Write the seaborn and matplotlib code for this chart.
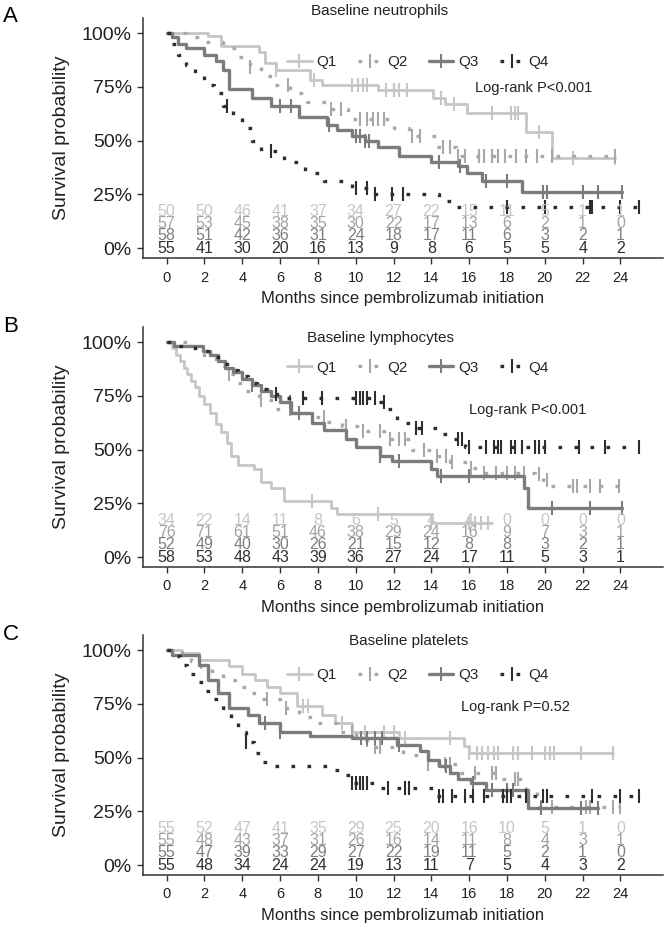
import numpy as np
import pandas as pd
import matplotlib
matplotlib.use("Agg")
import matplotlib.pyplot as plt
from matplotlib.lines import Line2D
import seaborn as sns

sns.set_theme(style="ticks")
plt.rcParams["font.family"] = ["Liberation Sans", "DejaVu Sans"]

groups = ["Q1", "Q2", "Q3", "Q4"]
months = [0, 2, 4, 6, 8, 10, 12, 14, 16, 18, 20, 22, 24]

# ---- Baseline neutrophils ----
neu_q1_t = [0, 2.2, 2.9, 4.9, 5.2, 5.8, 7.6, 8.2, 11.2, 14.1, 14.7, 15.9, 19.0, 20.4]
neu_q1_s = [1.0, 0.985, 0.94, 0.91, 0.86, 0.83, 0.78, 0.76, 0.735, 0.70, 0.67, 0.63, 0.54, 0.42]
neu_q1_end = 23.7
neu_q1_cens = [5.8, 7.8, 9.8, 10.1, 10.4, 10.6, 11.6, 12.0, 12.3, 12.7, 14.5, 15.2, 17.2, 18.2, 18.4, 18.6, 19.7, 21.5, 23.7]
neu_q2_t = [0, 1.0, 2.0, 3.0, 3.8, 4.4, 5.0, 5.6, 6.5, 7.4, 8.6, 9.6, 12.0, 12.8, 14.3, 15.3]
neu_q2_s = [1.0, 0.98, 0.96, 0.93, 0.89, 0.84, 0.80, 0.76, 0.72, 0.68, 0.645, 0.60, 0.56, 0.52, 0.47, 0.43]
neu_q2_end = 23.7
neu_q2_cens = [4.4, 6.4, 8.7, 9.2, 10.2, 10.6, 10.9, 11.2, 11.5, 13.0, 13.4, 14.6, 15.0, 15.4, 15.8, 16.5, 16.8, 17.2, 17.5, 17.9, 18.5, 19.0, 19.6, 20.4, 23.7]
neu_q3_t = [0, 0.3, 0.6, 1.0, 2.0, 2.6, 3.0, 3.3, 4.5, 5.5, 7.0, 8.5, 9.0, 9.8, 10.5, 11.2, 12.3, 14.0, 15.4, 15.9, 16.7, 18.8]
neu_q3_s = [1.0, 0.98, 0.95, 0.93, 0.90, 0.87, 0.83, 0.74, 0.70, 0.66, 0.61, 0.57, 0.55, 0.52, 0.50, 0.47, 0.43, 0.40, 0.38, 0.35, 0.31, 0.26]
neu_q3_end = 24.1
neu_q3_cens = [6.0, 6.6, 8.6, 10.0, 10.2, 10.5, 10.7, 14.4, 15.5, 16.9, 18.0, 19.9, 20.1, 22.0, 22.8, 24.1]
neu_q4_t = [0, 0.3, 0.6, 1.0, 1.5, 2.0, 2.5, 3.0, 3.5, 4.0, 4.5, 5.0, 6.2, 7.3, 8.3, 9.8, 11.0, 14.4, 15.2]
neu_q4_s = [1.0, 0.95, 0.90, 0.85, 0.80, 0.76, 0.72, 0.66, 0.61, 0.56, 0.50, 0.45, 0.40, 0.35, 0.31, 0.28, 0.25, 0.22, 0.19]
neu_q4_end = 25.0
neu_q4_cens = [3.2, 5.5, 10.0, 10.6, 11.0, 11.9, 12.5, 18.0, 20.0, 22.4, 22.5, 24.0, 25.0]
neu_risk_q1 = [50, 50, 46, 41, 37, 34, 27, 22, 15, 11, 5, 1, 1]
neu_risk_q2 = [57, 53, 45, 38, 35, 30, 22, 17, 13, 6, 2, 1, 0]
neu_risk_q3 = [58, 51, 42, 36, 31, 24, 18, 17, 11, 6, 3, 2, 1]
neu_risk_q4 = [55, 41, 30, 20, 16, 13, 9, 8, 6, 5, 5, 4, 2]

# ---- Baseline lymphocytes ----
lym_q1_t = [0, 0.3, 0.5, 0.7, 0.9, 1.1, 1.3, 1.5, 1.7, 2.0, 2.3, 2.6, 2.9, 3.2, 3.4, 3.8, 4.6, 5.0, 5.5, 6.2, 8.7, 9.0, 14.0]
lym_q1_s = [1.0, 0.97, 0.94, 0.91, 0.88, 0.85, 0.82, 0.79, 0.75, 0.71, 0.67, 0.62, 0.58, 0.53, 0.47, 0.43, 0.41, 0.35, 0.32, 0.26, 0.23, 0.20, 0.16]
lym_q1_end = 17.2
lym_q1_cens = [7.7, 11.2, 14.0, 16.0, 16.3, 16.6, 17.0]
lym_q2_t = [0, 1.2, 2.0, 2.6, 3.1, 3.6, 4.2, 4.9, 5.8, 6.6, 7.5, 8.4, 9.3, 10.2, 11.5, 13.0, 14.2, 15.0, 15.9, 16.5, 19.5, 19.9, 20.3]
lym_q2_s = [1.0, 0.97, 0.93, 0.89, 0.85, 0.81, 0.77, 0.73, 0.69, 0.67, 0.65, 0.63, 0.61, 0.585, 0.55, 0.50, 0.47, 0.44, 0.415, 0.39, 0.385, 0.36, 0.33]
lym_q2_end = 24.0
lym_q2_cens = [3.3, 5.0, 6.5, 8.3, 9.5, 10.4, 11.3, 11.8, 12.3, 12.6, 13.6, 14.3, 14.8, 15.1, 16.1, 16.8, 17.4, 18.0, 18.4, 18.9, 19.7, 20.1, 21.5, 21.7, 22.4, 22.9, 23.9]
lym_q3_t = [0, 0.4, 1.9, 2.3, 2.7, 3.1, 3.5, 4.0, 4.5, 5.0, 5.5, 6.0, 6.6, 7.7, 8.3, 9.5, 10.0, 11.3, 11.9, 14.0, 14.3, 18.9, 19.1]
lym_q3_s = [1.0, 0.98, 0.96, 0.94, 0.91, 0.88, 0.86, 0.83, 0.80, 0.77, 0.75, 0.72, 0.67, 0.625, 0.59, 0.55, 0.51, 0.47, 0.445, 0.41, 0.375, 0.32, 0.23]
lym_q3_end = 24.1
lym_q3_cens = [4.5, 6.5, 7.0, 11.3, 12.3, 14.5, 16.0, 20.4, 22.4, 24.1]
lym_q4_t = [0, 0.5, 1.5, 2.2, 2.8, 3.3, 3.8, 4.3, 4.8, 5.3, 6.0, 11.2, 11.6, 12.2, 13.2, 14.4, 15.2, 15.8]
lym_q4_s = [1.0, 0.98, 0.96, 0.93, 0.90, 0.87, 0.84, 0.81, 0.78, 0.76, 0.74, 0.72, 0.69, 0.625, 0.60, 0.57, 0.55, 0.51]
lym_q4_end = 25.0
lym_q4_cens = [5.8, 7.2, 8.2, 10.0, 10.2, 10.4, 10.6, 11.0, 11.5, 13.2, 13.5, 15.4, 15.6, 16.0, 16.9, 17.3, 17.5, 17.7, 18.2, 18.4, 18.8, 19.5, 19.7, 20.0, 21.8, 23.2, 25.0]
lym_risk_q1 = [34, 22, 14, 11, 8, 6, 5, 4, 4, 0, 0, 0, 0]
lym_risk_q2 = [76, 71, 61, 51, 46, 38, 29, 24, 16, 9, 7, 3, 1]
lym_risk_q3 = [52, 49, 40, 30, 26, 21, 15, 12, 8, 8, 3, 2, 1]
lym_risk_q4 = [58, 53, 48, 43, 39, 36, 27, 24, 17, 11, 5, 3, 1]

# ---- Baseline platelets ----
plt_q1_t = [0, 0.8, 1.7, 3.3, 4.0, 4.65, 5.3, 6.0, 6.9, 8.2, 8.9, 9.8, 12.3, 15.7, 16.0]
plt_q1_s = [1.0, 0.985, 0.955, 0.925, 0.89, 0.86, 0.83, 0.80, 0.74, 0.70, 0.66, 0.62, 0.59, 0.555, 0.52]
plt_q1_end = 23.6
plt_q1_cens = [7.2, 7.5, 9.3, 10.5, 11.5, 12.0, 12.6, 15.0, 16.0, 16.4, 16.7, 17.0, 17.3, 17.5, 18.3, 18.6, 19.3, 20.0, 20.3, 20.5, 21.9, 23.6]
plt_q2_t = [0, 0.8, 1.3, 1.8, 2.4, 3.0, 3.6, 4.2, 5.0, 6.0, 7.0, 8.0, 9.0, 10.0, 11.0, 12.5, 13.8, 15.5, 17.5, 19.0, 19.6]
plt_q2_s = [1.0, 0.97, 0.95, 0.92, 0.89, 0.86, 0.83, 0.80, 0.77, 0.73, 0.69, 0.66, 0.62, 0.58, 0.55, 0.51, 0.47, 0.43, 0.40, 0.34, 0.27]
plt_q2_end = 24.0
plt_q2_cens = [5.3, 6.3, 9.8, 10.6, 11.0, 11.3, 13.8, 14.7, 15.0, 16.3, 17.2, 17.4, 18.4, 18.6, 19.8, 20.4, 22.2, 22.4, 23.6, 24.0]
plt_q3_t = [0, 0.3, 1.7, 2.2, 2.7, 3.3, 4.3, 4.9, 6.0, 7.6, 9.8, 12.2, 13.4, 13.8, 14.4, 15.0, 15.4, 16.1, 16.9, 19.1]
plt_q3_s = [1.0, 0.975, 0.93, 0.86, 0.80, 0.73, 0.70, 0.66, 0.62, 0.60, 0.59, 0.56, 0.53, 0.49, 0.46, 0.43, 0.40, 0.38, 0.35, 0.265]
plt_q3_end = 22.8
plt_q3_cens = [5.2, 6.0, 10.3, 10.6, 11.0, 11.4, 12.3, 14.8, 16.2, 17.2, 18.0, 18.3, 19.8, 21.9, 22.8]
plt_q4_t = [0, 0.3, 0.7, 1.1, 1.5, 2.0, 2.5, 3.0, 3.4, 3.8, 4.2, 4.6, 5.0, 5.5, 8.6, 9.2, 9.8, 11.3, 14.2]
plt_q4_s = [1.0, 0.97, 0.93, 0.89, 0.85, 0.81, 0.77, 0.73, 0.68, 0.62, 0.57, 0.52, 0.48, 0.46, 0.44, 0.42, 0.38, 0.36, 0.32]
plt_q4_end = 25.0
plt_q4_cens = [4.2, 9.8, 10.0, 10.2, 10.4, 10.6, 11.7, 12.6, 12.8, 14.4, 14.6, 15.1, 15.8, 16.2, 16.8, 17.8, 18.0, 18.2, 19.0, 19.9, 20.1, 22.5, 24.0, 25.0]
plt_risk_q1 = [55, 52, 47, 41, 35, 29, 25, 20, 16, 10, 5, 1, 0]
plt_risk_q2 = [55, 48, 43, 37, 31, 26, 16, 14, 11, 8, 4, 3, 1]
plt_risk_q3 = [55, 47, 39, 33, 29, 27, 22, 19, 11, 5, 2, 1, 0]
plt_risk_q4 = [55, 48, 34, 24, 24, 19, 13, 11, 7, 5, 4, 3, 2]

panels = [
    dict(letter="A", title="Baseline neutrophils", pval="Log-rank P<0.001",
         curves=[(neu_q1_t, neu_q1_s, neu_q1_end, neu_q1_cens),
                 (neu_q2_t, neu_q2_s, neu_q2_end, neu_q2_cens),
                 (neu_q3_t, neu_q3_s, neu_q3_end, neu_q3_cens),
                 (neu_q4_t, neu_q4_s, neu_q4_end, neu_q4_cens)],
         risk=[neu_risk_q1, neu_risk_q2, neu_risk_q3, neu_risk_q4],
         title_xy=(0.454, 1.028), leg_xy=(0.529, 0.817), p_xy=(0.751, 0.708)),
    dict(letter="B", title="Baseline lymphocytes", pval="Log-rank P<0.001",
         curves=[(lym_q1_t, lym_q1_s, lym_q1_end, lym_q1_cens),
                 (lym_q2_t, lym_q2_s, lym_q2_end, lym_q2_cens),
                 (lym_q3_t, lym_q3_s, lym_q3_end, lym_q3_cens),
                 (lym_q4_t, lym_q4_s, lym_q4_end, lym_q4_cens)],
         risk=[lym_risk_q1, lym_risk_q2, lym_risk_q3, lym_risk_q4],
         title_xy=(0.456, 0.955), leg_xy=(0.529, 0.83), p_xy=(0.739, 0.654)),
    dict(letter="C", title="Baseline platelets", pval="Log-rank P=0.52",
         curves=[(plt_q1_t, plt_q1_s, plt_q1_end, plt_q1_cens),
                 (plt_q2_t, plt_q2_s, plt_q2_end, plt_q2_cens),
                 (plt_q3_t, plt_q3_s, plt_q3_end, plt_q3_cens),
                 (plt_q4_t, plt_q4_s, plt_q4_end, plt_q4_cens)],
         risk=[plt_risk_q1, plt_risk_q2, plt_risk_q3, plt_risk_q4],
         title_xy=(0.51, 0.975), leg_xy=(0.529, 0.833), p_xy=(0.717, 0.70)),
]

line_col = ["#c6c6c6", "#a8a8a8", "#7c7c7c", "#2e2e2e"]
risk_col = ["#c6c6c6", "#a2a2a2", "#7e7e7e", "#303030"]
line_ls = ["-", (0, (1.1, 3.7)), "-", (0, (1.1, 3.7))]
line_lw = [2.0, 2.4, 2.4, 2.4]
risk_y = [0.172, 0.115, 0.058, 0.0]
ink = "#333333"

fig = plt.figure(figsize=(6.66, 9.27), dpi=100)
W, H = 666, 927
bottoms = [258, 567, 875]

for panel, bot in zip(panels, bottoms):
    ax = fig.add_axes([143 / W, 1 - bot / H, 520 / W, 240 / H])
    for i, (t, s, end, cens) in enumerate(panel["curves"]):
        df = pd.DataFrame({"time": list(t) + [end], "surv": list(s) + [s[-1]]})
        sns.lineplot(data=df, x="time", y="surv", estimator=None, drawstyle="steps-post",
                     color=line_col[i], linestyle=line_ls[i], lw=line_lw[i], ax=ax)
        idx = np.searchsorted(np.array(t), np.array(cens), side="right") - 1
        ax.plot(cens, np.array(s)[idx], ls="none", marker="|", ms=9.5, mew=1.5,
                color=line_col[i])
    for i, row in enumerate(panel["risk"]):
        for m, n in zip(months, row):
            ax.text(m, risk_y[i], str(n), ha="center", va="center", fontsize=11.5,
                    color=risk_col[i])

    ax.set_xlim(-1.25, 26.25)
    ax.set_ylim(-0.0465, 1.07)
    ax.set_xticks(months)
    ax.set_yticks([0, 0.25, 0.5, 0.75, 1.0])
    ax.set_yticklabels(["0%", "25%", "50%", "75%", "100%"])
    ax.tick_params(axis="y", labelsize=14, length=4, width=1, color=ink, labelcolor="#222222", pad=4)
    ax.tick_params(axis="x", labelsize=10.5, length=4, width=1, color=ink, labelcolor="#222222", pad=5)
    for sp in ["top", "right"]:
        ax.spines[sp].set_visible(False)
    for sp in ["left", "bottom"]:
        ax.spines[sp].set_color(ink)
        ax.spines[sp].set_linewidth(1.1)
    ax.set_xlabel("Months since pembrolizumab initiation", fontsize=12, color="#222222", va="center")
    ax.xaxis.set_label_coords(0.5, -0.17)
    ax.set_ylabel("Survival probability", fontsize=14, color="#222222", va="center")
    ax.yaxis.set_label_coords(-0.156, 0.5)

    ax.text(*panel["title_xy"], panel["title"], transform=ax.transAxes, ha="center",
            va="center", fontsize=11, color="#222222")
    ax.text(*panel["p_xy"], panel["pval"], transform=ax.transAxes, ha="center",
            va="center", fontsize=10.5, color="#222222")
    handles = [Line2D([], [], color=line_col[i], linestyle=line_ls[i], lw=line_lw[i],
                      marker="|", ms=10, mew=1.5) for i in range(4)]
    ax.legend(handles, groups, loc="center", bbox_to_anchor=panel["leg_xy"], ncol=4,
              frameon=False, fontsize=11, handlelength=1.6, handletextpad=0.3,
              columnspacing=1.4, borderpad=0)
    fig.text(3 / W, 1 - (bot - 241) / H, panel["letter"], fontsize=16, color="black",
             ha="left", va="center")

fig.savefig("out.png", dpi=100)
